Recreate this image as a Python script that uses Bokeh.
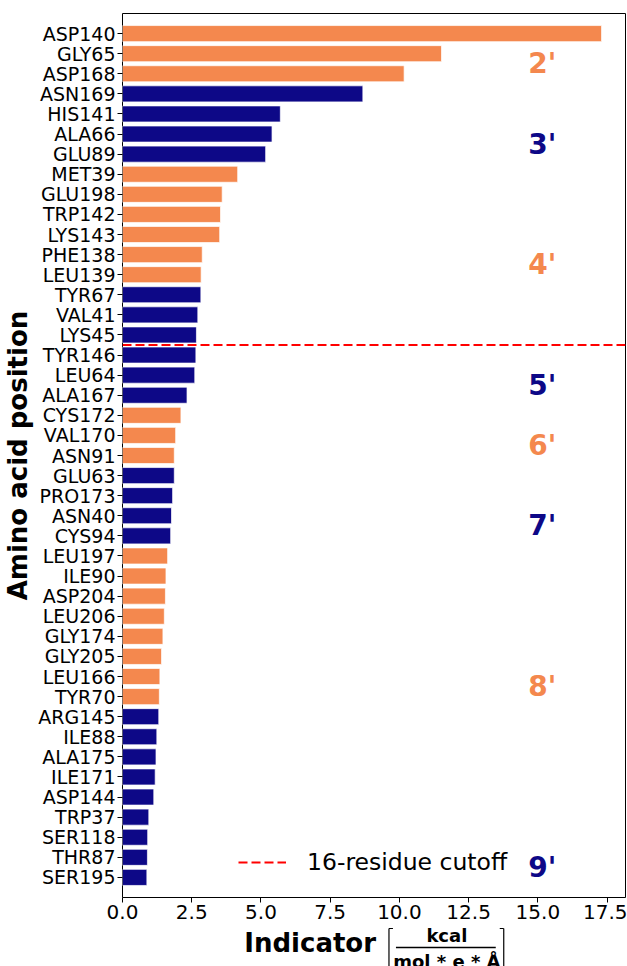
from bokeh.plotting import figure
from bokeh.layouts import column
from bokeh.models import (ColumnDataSource, Range1d, FixedTicker, PrintfTickFormatter,
                          Legend, LegendItem)
from bokeh.core.properties import value
from bokeh.embed import file_html
from bokeh.resources import INLINE

# Residues ranked by indicator value (top to bottom)
residues = ["ASP140", "GLY65", "ASP168", "ASN169", "HIS141", "ALA66", "GLU89", "MET39",
            "GLU198", "TRP142", "LYS143", "PHE138", "LEU139", "TYR67", "VAL41", "LYS45",
            "TYR146", "LEU64", "ALA167", "CYS172", "VAL170", "ASN91", "GLU63", "PRO173",
            "ASN40", "CYS94", "LEU197", "ILE90", "ASP204", "LEU206", "GLY174", "GLY205",
            "LEU166", "TYR70", "ARG145", "ILE88", "ALA175", "ILE171", "ASP144", "TRP37",
            "SER118", "THR87", "SER195"]

indicator = [17.30, 11.52, 10.17, 8.68, 5.70, 5.40, 5.17, 4.16,
             3.60, 3.54, 3.51, 2.88, 2.84, 2.83, 2.72, 2.67,
             2.65, 2.61, 2.33, 2.11, 1.92, 1.87, 1.87, 1.81,
             1.77, 1.74, 1.63, 1.57, 1.55, 1.51, 1.46, 1.41,
             1.35, 1.33, 1.31, 1.24, 1.21, 1.18, 1.13, 0.95,
             0.91, 0.90, 0.88]

# Strand assignment of each residue
strand = ["P", "P", "P", "Q", "Q", "Q", "Q", "P",
          "P", "P", "P", "P", "P", "Q", "Q", "Q",
          "Q", "Q", "Q", "P", "P", "P", "Q", "Q",
          "Q", "Q", "P", "P", "P", "P", "P", "P",
          "P", "P", "Q", "Q", "Q", "Q", "Q", "Q",
          "Q", "Q", "Q"]

# Region tags drawn on the right, with the row they sit beside
region_tags = ["2'", "3'", "4'", "5'", "6'", "7'", "8'", "9'"]
region_rows = [1.5, 5.5, 11.5, 17.5, 20.5, 24.5, 32.5, 41.5]
region_strand = ["P", "Q", "P", "Q", "P", "Q", "P", "Q"]

cutoff = 16
x_ticks = [0.0, 2.5, 5.0, 7.5, 10.0, 12.5, 15.0, 17.5]

ORANGE = "#F4884E"
NAVY = "#0D0887"
palette = {"P": ORANGE, "Q": NAVY}
FONT = "DejaVu Sans"

n = len(residues)
x_max = max(indicator) * 1.05

src = ColumnDataSource(dict(
    y=list(range(n)),
    right=indicator,
    color=[palette[s] for s in strand],
))

p = figure(width=627, height=927, output_backend="svg", toolbar_location=None,
           x_range=Range1d(0, x_max), y_range=Range1d(n, -1),
           min_border_left=121, min_border_right=2, min_border_top=13,
           min_border_bottom=30)

p.hbar(y="y", left=0, right="right", height=0.8, source=src,
       fill_color="color", line_color="white", line_width=1, line_alpha=0.7)

# Cutoff line between the top-16 residues and the rest
cut = p.line(x=[0, x_max], y=[cutoff - 0.5, cutoff - 0.5], line_color="red",
             line_width=2, line_dash="9 4")

legend = Legend(items=[LegendItem(label="16-residue cutoff", renderers=[cut])],
                location=(116, 21), padding=0, margin=0, border_line_alpha=0,
                background_fill_alpha=0, glyph_width=48, label_standoff=21,
                label_text_font=FONT, label_text_font_size="23.5px",
                label_text_color="black", spacing=0)
p.add_layout(legend)

# Region tags
p.text(x=[14.65] * len(region_tags), y=region_rows, text=region_tags,
       text_color=[palette[s] for s in region_strand],
       text_font=value(FONT), text_font_style="bold", text_font_size="28px",
       text_baseline="middle", text_align="left")

# Axes styling
p.grid.visible = False
p.outline_line_color = "black"
p.outline_line_width = 1

p.xaxis.ticker = FixedTicker(ticks=x_ticks)
p.xaxis.formatter = PrintfTickFormatter(format="%.1f")
p.yaxis.ticker = FixedTicker(ticks=list(range(n)))
p.yaxis.major_label_overrides = {i: r for i, r in enumerate(residues)}

for ax in (p.xaxis[0], p.yaxis[0]):
    ax.axis_line_color = None
    ax.minor_tick_line_color = None
    ax.major_tick_in = 0
    ax.major_tick_out = 5
    ax.major_tick_line_color = "black"
    ax.major_label_text_font = FONT
    ax.major_label_text_color = "black"
p.xaxis.major_label_text_font_size = "20px"
p.yaxis.major_label_text_font_size = "19px"
p.xaxis.major_label_standoff = 2
p.yaxis.major_label_standoff = 2

p.yaxis.axis_label = "Amino acid position"
p.yaxis.axis_label_text_font = FONT
p.yaxis.axis_label_text_font_style = "bold"
p.yaxis.axis_label_text_font_size = "26px"
p.yaxis.axis_label_text_color = "black"
p.yaxis.axis_label_standoff = 2

# X-axis title strip: "Indicator [kcal / (mol * e * Å)]", laid out in pixels
# measured from the left edge of the plot frame
t = figure(width=627, height=39, output_backend="svg", toolbar_location=None,
           x_range=Range1d(0, 504), y_range=Range1d(39, 0),
           x_axis_location=None, y_axis_location=None,
           min_border_left=121, min_border_right=2, min_border_top=0,
           min_border_bottom=0, outline_line_color=None)
t.grid.visible = False

t.text(x=[122], y=[15], text=["Indicator"], text_font=value(FONT),
       text_font_style="bold", text_font_size="26px", text_color="black",
       text_align="left", text_baseline="alphabetic")
t.text(x=[325, 325], y=[8, 34], text=["kcal", "mol * e * Å"], text_font=value(FONT),
       text_font_style="bold", text_font_size="18px", text_color="black",
       text_align="center", text_baseline="alphabetic")
# fraction bar
t.segment(x0=[274], y0=[20], x1=[374], y1=[20], line_color="black", line_width=1.5)
# square brackets
t.segment(x0=[267, 267, 382, 378], y0=[1, 1, 1, 1], x1=[267, 271, 382, 382],
          y1=[45, 1, 45, 1], line_color="black", line_width=1.2)

layout = column(p, t, spacing=0)
open("out.html", "w").write(file_html(layout, INLINE))
